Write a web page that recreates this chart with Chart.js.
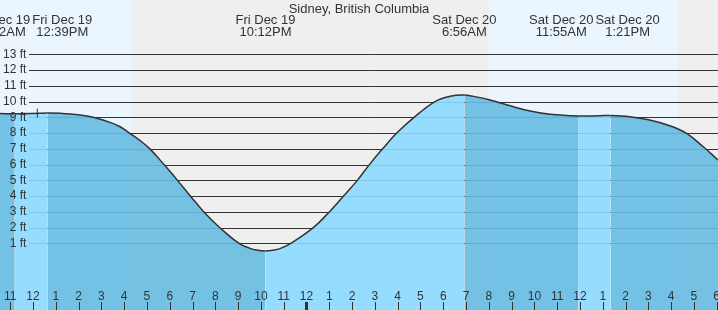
<!DOCTYPE html>
<html>
<head>
<meta charset="utf-8">
<script src="https://cdn.jsdelivr.net/npm/chart.js@4.4.0/dist/chart.umd.min.js"></script>
<style>
  html, body { margin: 0; padding: 0; background: #fff; }
  canvas { display: block; }
</style>
</head>
<body>
<canvas id="tide" width="718" height="310"></canvas>
<script>
// Tide curve: hours since Fri Dec 19 00:00 -> height in ft
const tideTimes = [10.55, 11.2, 12.65, 13.18, 14.06, 14.63, 15.38, 15.82, 16.23, 16.70, 17.13,
  17.75, 18.34, 18.91, 19.50, 20.20, 21.04, 21.52, 21.8, 22.2, 22.55, 22.84, 23.31, 24.30,
  25.00, 25.62, 26.23, 26.76, 27.34, 27.96, 28.72, 29.64, 30.3, 30.93, 31.5, 32.05, 32.93,
  33.81, 34.69, 35.92, 36.88, 37.35, 38.19, 39.06, 39.94, 40.68, 41.41, 42.06];
const tideHeights = [9.24, 9.22, 9.27, 9.25, 9.14, 9.0, 8.68, 8.40, 8.0, 7.52, 7.0,
  6.0, 5.0, 4.0, 3.0, 2.0, 1.0, 0.69, 0.58, 0.52, 0.57, 0.67, 1.0, 2.0,
  3.0, 4.0, 5.0, 6.0, 7.0, 8.0, 9.0, 10.0, 10.33, 10.41, 10.28, 10.10, 9.73,
  9.40, 9.19, 9.08, 9.10, 9.12, 9.04, 8.83, 8.47, 7.98, 7.13, 6.29];

// High / low tide events shown at the top
const eventTimes = [11.2, 12.65, 22.2, 30.93, 35.92, 37.35];
const eventDays = ['Fri Dec 19', 'Fri Dec 19', 'Fri Dec 19', 'Sat Dec 20', 'Sat Dec 20', 'Sat Dec 20'];
const eventClock = ['11:12AM', '12:39PM', '10:12PM', '6:56AM', '11:55AM', '1:21PM'];

// Night periods (sunset -> sunrise)
const nightStart = [16.30, 40.31];
const nightEnd = [32.01, 56.0];

// current time marker
const nowTime = 12.19;
const nowHeight = 9.27;

const yTicks = [1, 2, 3, 4, 5, 6, 7, 8, 9, 10, 11, 12, 13];
const firstHour = 11;
const hourLabels = ['11', '12', '1', '2', '3', '4', '5', '6', '7', '8', '9', '10', '11', '12',
  '1', '2', '3', '4', '5', '6', '7', '8', '9', '10', '11', '12', '1', '2', '3', '4', '5', '6'];

const FONT = '"Liberation Sans", Arial, sans-serif';
const TEXT = '#333';
const DAY_BG = '#ebf5fe';
const NIGHT_BG = '#efefef';
const RISE = 'rgba(140, 217, 255, 0.9)';
const FALL = 'rgba(102, 187, 226, 0.9)';

const tideDecor = {
  id: 'tideDecor',
  beforeDatasetsDraw(chart) {
    const { ctx, chartArea: a, scales: { x, y } } = chart;
    ctx.save();
    ctx.fillStyle = DAY_BG;
    ctx.fillRect(a.left, a.top, a.width, a.height);
    ctx.fillStyle = NIGHT_BG;
    nightStart.forEach((s, i) => {
      const x0 = Math.round(x.getPixelForValue(s));
      const x1 = Math.min(a.right, Math.round(x.getPixelForValue(nightEnd[i])));
      ctx.fillRect(x0, a.top, x1 - x0, a.height);
    });
    // grid lines start right of the labels
    ctx.strokeStyle = '#333';
    ctx.lineWidth = 1;
    yTicks.forEach(v => {
      const py = Math.round(y.getPixelForValue(v)) + 0.5;
      ctx.beginPath();
      ctx.moveTo(29, py);
      ctx.lineTo(a.right, py);
      ctx.stroke();
    });
    ctx.restore();
  },
  afterDraw(chart) {
    const { ctx, scales: { x } } = chart;
    ctx.save();
    ctx.fillStyle = TEXT;

    // hour labels + tick marks
    ctx.font = '12px ' + FONT;
    ctx.textAlign = 'center';
    ctx.textBaseline = 'alphabetic';
    hourLabels.forEach((lab, i) => {
      const t = firstHour + i;
      const px = x.getPixelForValue(t);
      ctx.fillText(lab, px, 300);
      const bold = t % 24 === 0;
      const cx = Math.round(px);
      ctx.fillRect(cx - (bold ? 1 : 0), 302, bold ? 3 : 1, 8);
    });

    // title
    ctx.font = '13px ' + FONT;
    ctx.fillText('Sidney, British Columbia', chart.width / 2, 12.5);

    // tide event labels, pushed apart when they collide
    const labels = eventTimes.map((t, i) => ({
      cx: x.getPixelForValue(t),
      w: Math.max(ctx.measureText(eventDays[i]).width, ctx.measureText(eventClock[i]).width)
    }));
    for (let i = 1; i < labels.length; i++) {
      const a = labels[i - 1], b = labels[i];
      const need = (a.w + b.w) / 2 + 2;
      const gap = b.cx - a.cx;
      if (gap < need) {
        const push = (need - gap) / 2;
        a.cx -= push;
        b.cx += push;
      }
    }
    labels.forEach((l, i) => {
      ctx.fillText(eventDays[i], l.cx, 24.3);
      ctx.fillText(eventClock[i], l.cx, 36.3);
    });
    ctx.restore();
  }
};

new Chart(document.getElementById('tide'), {
  type: 'line',
  data: {
    datasets: [{
      data: [{ x: nowTime, y: nowHeight }],
      showLine: false,
      fill: false,
      pointStyle: 'line',
      rotation: 90,
      pointRadius: 4.5,
      borderColor: '#333',
      borderWidth: 1
    }, {
      data: tideTimes.map((t, i) => ({ x: t, y: tideHeights[i] })),
      borderColor: '#333',
      borderWidth: 1.5,
      pointRadius: 0,
      tension: 0.4,
      fill: 'start',
      backgroundColor: FALL,
      segment: {
        backgroundColor: c => c.p1.parsed.y > c.p0.parsed.y ? RISE : FALL
      }
    }]
  },
  options: {
    responsive: false,
    animation: false,
    events: [],
    layout: { padding: 0, autoPadding: false },
    plugins: { legend: { display: false }, tooltip: { enabled: false } },
    scales: {
      x: { type: 'linear', display: false, min: 10.552, max: 42.057 },
      y: {
        type: 'linear',
        position: 'left',
        min: -3.22,
        max: 16.44,
        afterBuildTicks: s => { s.ticks = yTicks.map(v => ({ value: v })); },
        afterFit: s => {
          s.width = 0;
          s.paddingTop = 0;
          s.paddingBottom = 0;
        },
        grid: { display: false, drawTicks: false },
        border: { display: false },
        ticks: {
          mirror: true,
          crossAlign: 'far',
          padding: 3,
          z: 1,
          color: TEXT,
          font: { family: FONT, size: 12 },
          callback: v => v + ' ft'
        }
      }
    }
  },
  plugins: [tideDecor]
});
</script>
</body>
</html>
